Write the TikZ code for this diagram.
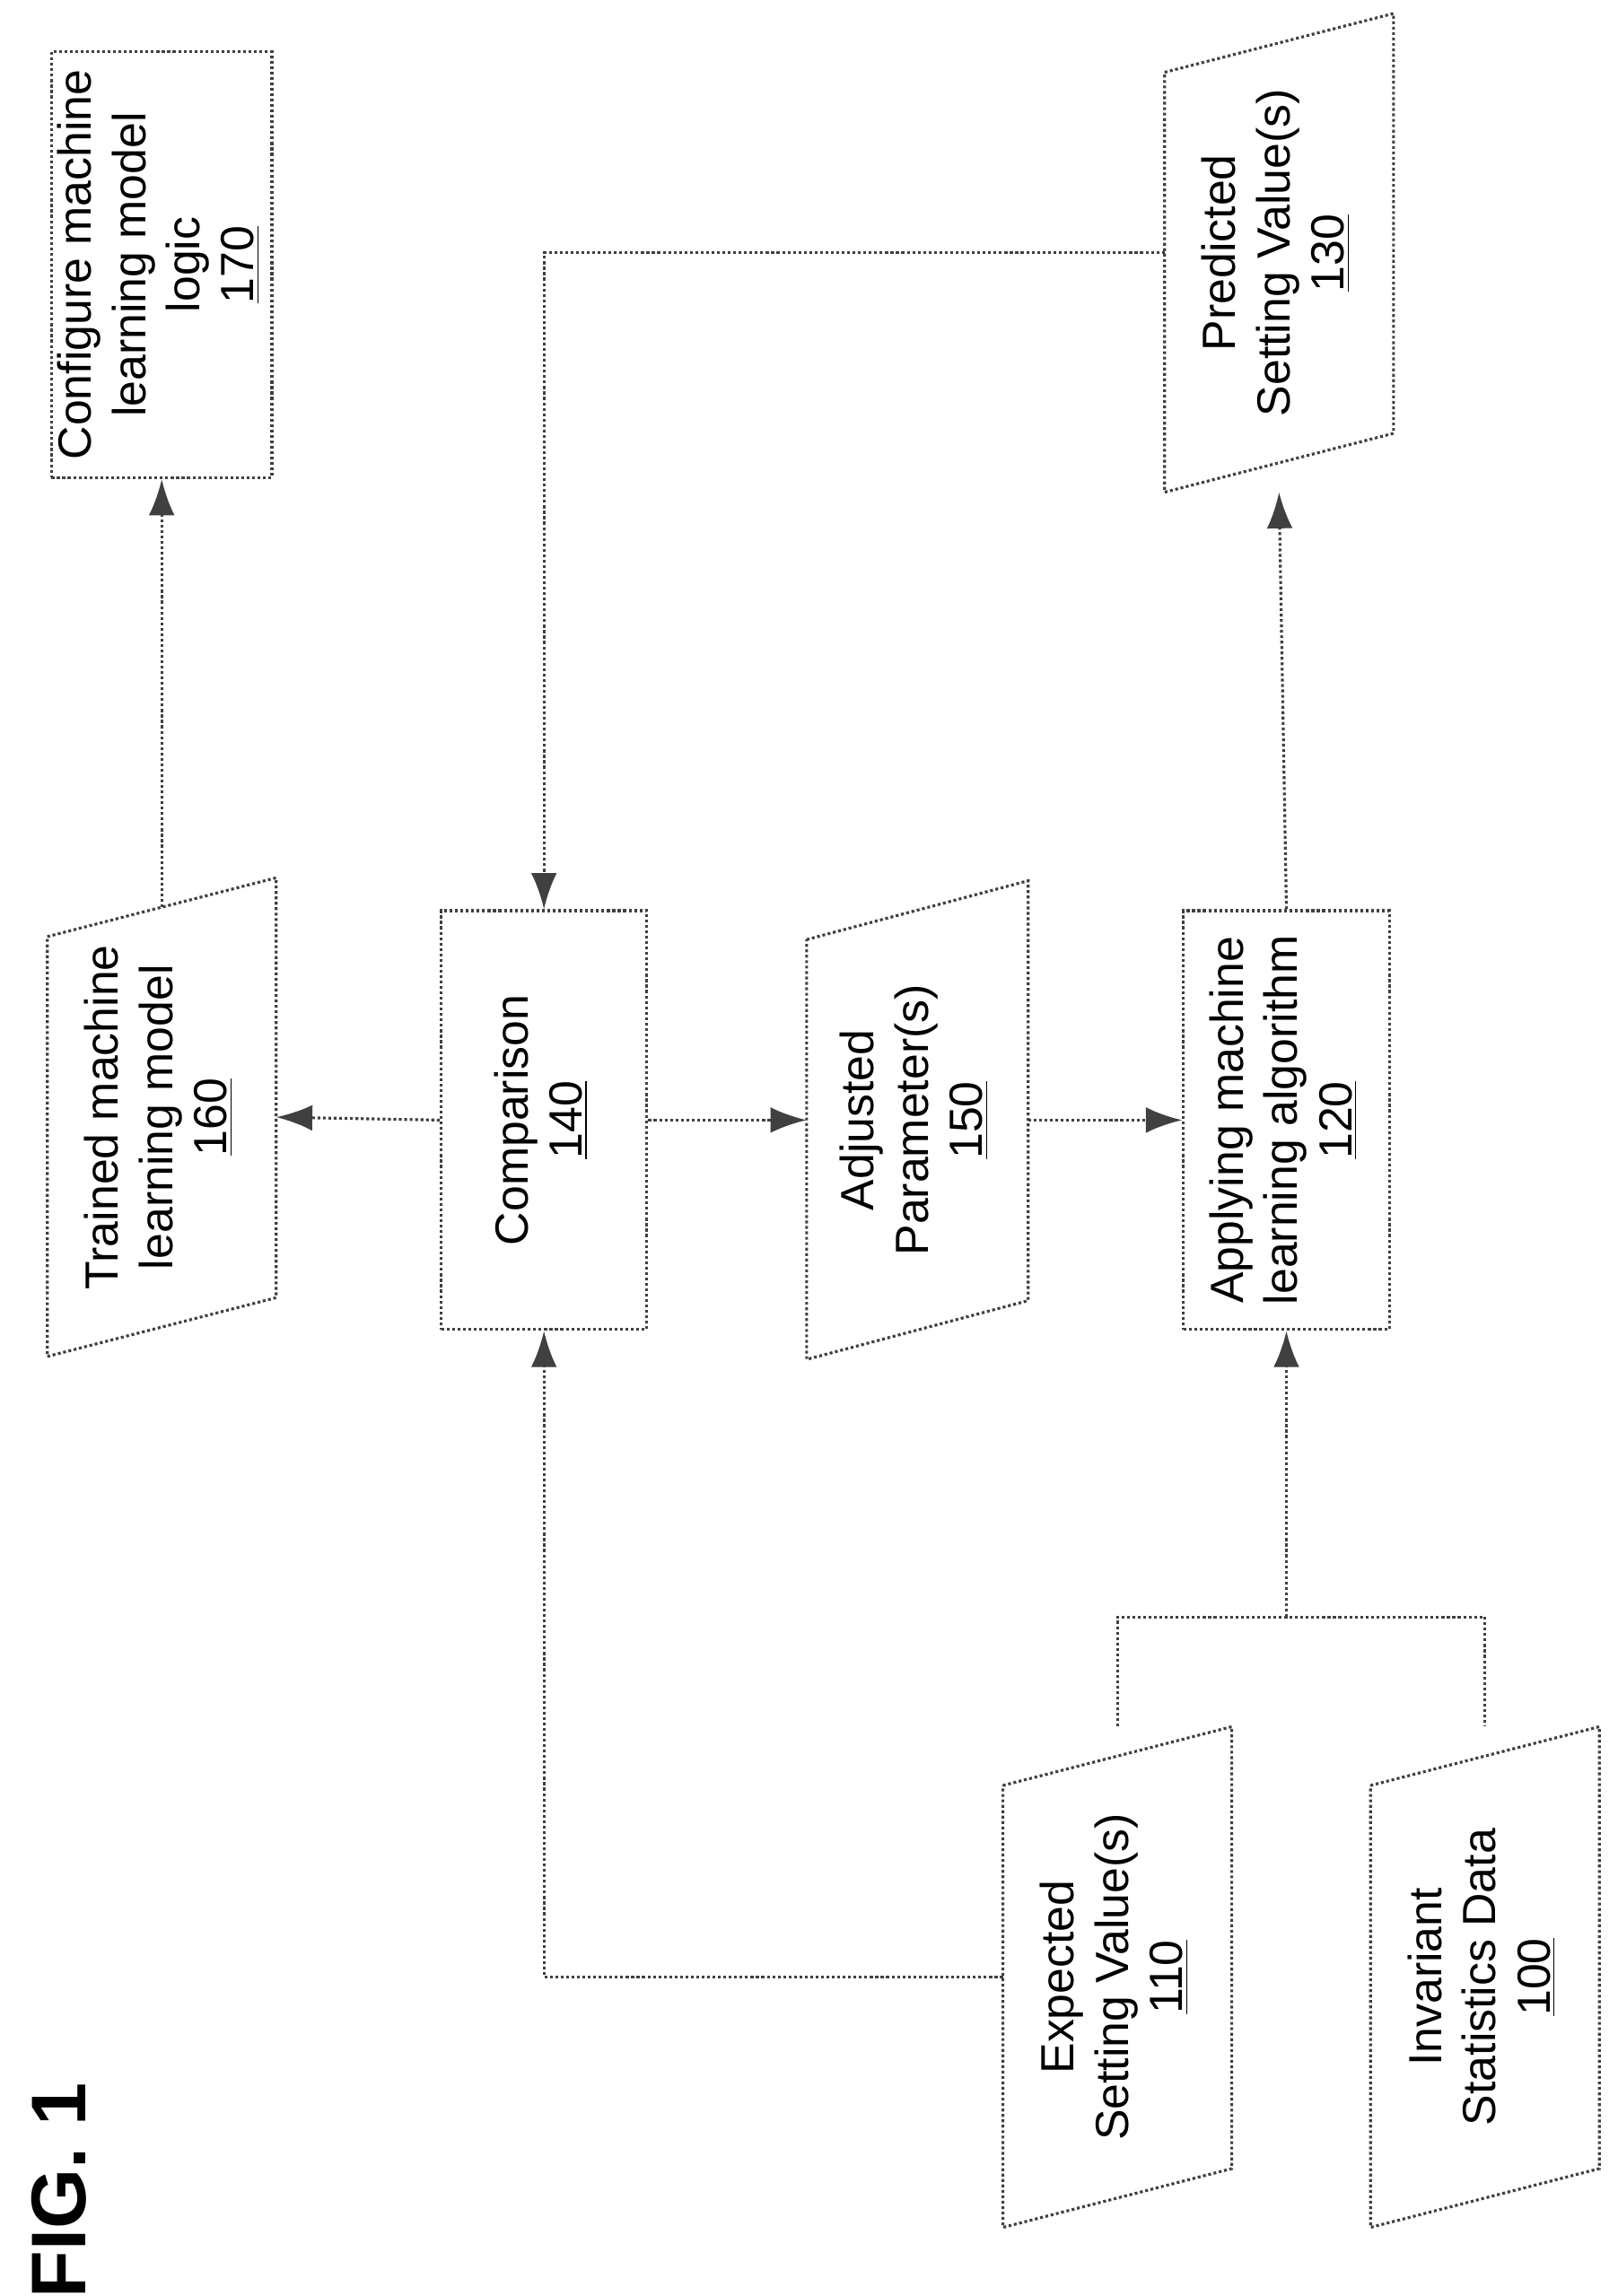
\documentclass[tikz,border=0pt]{standalone}
\usepackage{fontspec}
\setmainfont{Liberation Sans}
\usetikzlibrary{arrows.meta, calc, positioning}
\tikzset{
  box/.style={draw=black!75, densely dotted, line width=1.1pt, minimum width=#1},
  box/.default=3cm,
  ghost/.style={inner sep=0pt, minimum width=3.1cm, minimum height=5.7cm},
  conn/.style={draw=black!75, densely dotted, line width=1.1pt},
  tip/.style={-{Latex[length=14pt,width=10pt]}},
}
\newcommand{\lbl}[1]{\rotatebox{90}{\fontsize{18}{21}\selectfont\begin{tabular}{c}#1\end{tabular}}}
\newcommand{\slantbox}[1]{\draw[conn] ($(#1.north west)+(0,20)$) -- ($(#1.north east)+(0,-20)$)
  -- ($(#1.south east)+(0,-20)$) -- ($(#1.south west)+(0,20)$) -- cycle;}
\begin{document}
\begin{tikzpicture}[x=0.02cm, y=-0.02cm]
\useasboundingbox (0,0) rectangle (1100,1562);
% boxes
\node[ghost, minimum width=3cm, minimum height=5.8cm, conn] (n170) at (110,180) {\lbl{Configure machine\\learning model\\logic\\\underline{170}}};
\node[ghost] (n130) at (870,172) {\lbl{Predicted\\Setting Value(s)\\\underline{130}}};
\node[ghost] (n160) at (110,760) {\lbl{Trained machine\\learning model\\\underline{160}}};
\node[ghost, minimum width=2.8cm, conn] (n140) at (370,762) {\lbl{Comparison\\\underline{140}}};
\node[ghost, minimum width=3cm] (n150) at (624,762) {\lbl{Adjusted\\Parameter(s)\\\underline{150}}};
\node[ghost, minimum width=2.8cm, conn] (n120) at (875,762) {\lbl{Applying machine\\learning algorithm\\\underline{120}}};
\node[ghost, minimum height=6cm] (n110) at (760,1345) {\lbl{Expected\\Setting Value(s)\\\underline{110}}};
\node[ghost, minimum height=6cm] (n100) at (1010,1345) {\lbl{Invariant\\Statistics Data\\\underline{100}}};
\slantbox{n130}
\slantbox{n160}
\slantbox{n150}
\slantbox{n110}
\slantbox{n100}
\node[font=\bfseries\fontsize{30}{30}\selectfont, rotate=90] (fig) at (40,1490) {FIG. 1};
% connectors
\draw[conn, tip] (n160.north) -- (n170.south);
\draw[conn, tip] (n140.west) -- (n160.east);
\draw[conn, tip] (n140.east) -- (n150.west);
\draw[conn, tip] (n150.east) -- (n120.west);
\draw[conn, tip] (n120.north) -- ($(n130.south)+(0,20)$);
\draw[conn, tip] (n130.west) -| (n140.north);
\draw[conn, tip] (n110.west) -| (n140.south);
\coordinate (join) at (875,1100);
\draw[conn] ($(n110.north)+(0,-20)$) |- (join) -| ($(n100.north)+(0,-20)$);
\draw[conn, tip] (join) -- (n120.south);
\end{tikzpicture}
\end{document}
